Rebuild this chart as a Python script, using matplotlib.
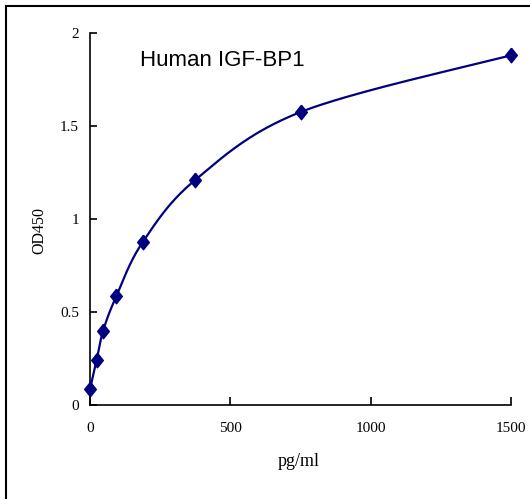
import numpy as np
import matplotlib
matplotlib.use('Agg')
import matplotlib.pyplot as plt
from matplotlib.patches import Rectangle

# standard curve values
conc = [0, 23.4, 46.9, 93.75, 187.5, 375, 750, 1500]
od450 = [0.085, 0.24, 0.40, 0.585, 0.875, 1.21, 1.575, 1.88]

xticks = [0, 500, 1000, 1500]
yticks = [0, 0.5, 1, 1.5, 2]
ytick_labels = ['0', '0.5', '1', '1.5', '2']


# Catmull-Rom style smoothing (like Excel's smoothed line), done in axes-fraction space
def smooth_line(xs, ys, xr, yr, n=40):
    px = np.asarray(xs, float) / xr
    py = np.asarray(ys, float) / yr
    pts = np.column_stack([px, py])
    pts = np.vstack([pts[0], pts, pts[-1]])
    out = []
    for i in range(1, len(pts) - 2):
        p0, p1, p2, p3 = pts[i - 1], pts[i], pts[i + 1], pts[i + 2]
        t = np.linspace(0, 1, n)[:, None]
        seg = 0.5 * ((2 * p1) + (-p0 + p2) * t + (2 * p0 - 5 * p1 + 4 * p2 - p3) * t ** 2
                     + (-p0 + 3 * p1 - 3 * p2 + p3) * t ** 3)
        out.append(seg)
    out = np.vstack(out)
    return out[:, 0] * xr, out[:, 1] * yr


fig = plt.figure(figsize=(5.3, 4.99), dpi=100)
ax = fig.add_axes([90 / 530, 94 / 499, 421 / 530, 372 / 499])

navy = '#000080'
# a diamond a bit taller than wide, like the Excel marker
diamond = [(0, 1), (0.8, 0), (0, -1), (-0.8, 0), (0, 1)]
sx, sy = smooth_line(conc, od450, 1500, 2)
ax.plot(sx, sy, color=navy, linewidth=1.6, clip_on=False)
ax.plot(conc, od450, linestyle='none', marker=diamond, markersize=10.5, color=navy,
        clip_on=False, zorder=3)

ax.set_xlim(0, 1500)
ax.set_ylim(0, 2)
ax.spines['top'].set_visible(False)
ax.spines['right'].set_visible(False)
ax.spines['left'].set_linewidth(1.2)
ax.spines['bottom'].set_linewidth(1.2)

serif = 'Liberation Serif'
ax.set_xticks(xticks)
ax.set_xticklabels([str(v) for v in xticks], fontfamily=serif, fontsize=11)
ax.set_yticks(yticks)
ax.set_yticklabels(ytick_labels, fontfamily=serif, fontsize=11)
ax.tick_params(axis='x', direction='in', length=6, width=1.2, pad=12)
ax.tick_params(axis='y', direction='in', length=5, width=1.2, pad=8)

ax.set_xlabel('pg/ml', fontfamily=serif, fontsize=13)
ax.xaxis.set_label_coords((299 - 90) / 421, (405 - 453) / 372)
ax.set_ylabel('OD450', fontfamily=serif, fontsize=11.5)
ax.yaxis.set_label_coords((47 - 90) / 421, (405 - 230) / 372)

fig.text(140 / 530, 1 - 60 / 499, 'Human IGF-BP1',
         fontfamily='Liberation Sans', fontsize=16, ha='left', va='center')

# border around the chart area (runs off the right and bottom edges)
fig.patches.append(Rectangle((6 / 530, -0.02), 1.05, 1 - 6 / 499 + 0.02,
                             transform=fig.transFigure, fill=False,
                             edgecolor='black', linewidth=1.5))

fig.savefig('out.png', dpi=100)
